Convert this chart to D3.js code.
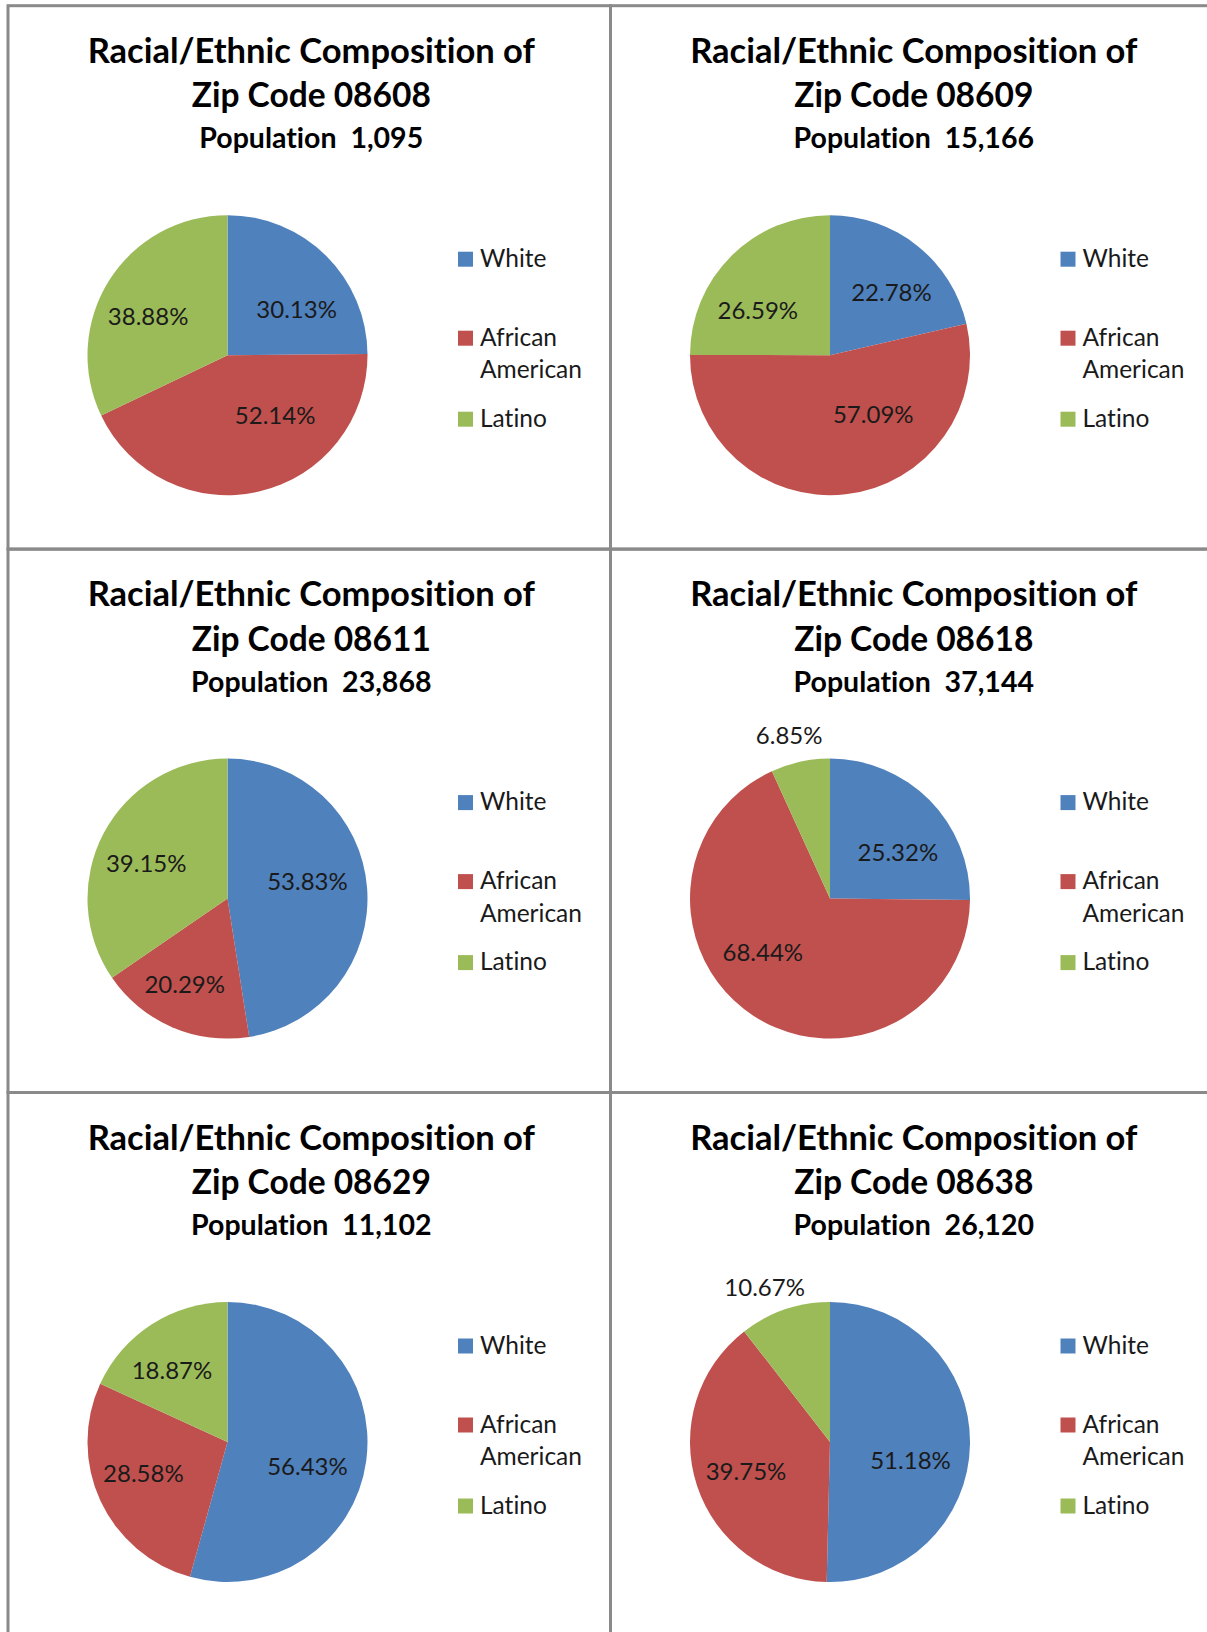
<!DOCTYPE html>
<html>
<head>
<meta charset="utf-8">
<script src="https://cdn.jsdelivr.net/npm/d3@7"></script>
<style>
  html, body { margin: 0; padding: 0; background: #ffffff; }
  svg { display: block; }
  text { white-space: pre; font-variant-ligatures: none; font-feature-settings: "liga" 0, "clig" 0; }
</style>
</head>
<body>
<svg id="chart" width="1207" height="1632"></svg>
<script>
// ---------- data ----------
const zipCodes = ["08608", "08609", "08611", "08618", "08629", "08638"];
const populations = ["1,095", "15,166", "23,868", "37,144", "11,102", "26,120"];
const categories = ["White", "African American", "Latino"];
const whiteValues = [30.13, 22.78, 53.83, 25.32, 56.43, 51.18];
const africanAmericanValues = [52.14, 57.09, 20.29, 68.44, 28.58, 39.75];
const latinoValues = [38.88, 26.59, 39.15, 6.85, 18.87, 10.67];

// label placement (Excel "best fit"), as fractions of the radius from the pie centre
const labelPlacement = [
  [[0.494, -0.326], [0.340, 0.431], [-0.567, -0.276]],
  [[0.439, -0.445], [0.309, 0.427], [-0.516, -0.320]],
  [[0.571, -0.125], [-0.306, 0.617], [-0.581, -0.252]],
  [[0.485, -0.331], [-0.480, 0.384], [-0.292, -1.164]],
  [[0.571, 0.174], [-0.601, 0.224], [-0.397, -0.510]],
  [[0.575, 0.130], [-0.600, 0.209], [-0.467, -1.104]]
];

// ---------- layout ----------
const colors = ["#4F81BD", "#C0504D", "#9BBB59"];
const color = d3.scaleOrdinal().domain(categories).range(colors);
const panelW = 602.5, panelH = 543.4;
const originX = 8, originY = 5.7;
const radius = 140;
const pieCx = 219.5, pieCy = 349.5;
const font = "Lato, 'Open Sans', sans-serif";

const svg = d3.select("#chart");
const pie = d3.pie().sort(null).value(d => d.value);
const arc = d3.arc().innerRadius(0).outerRadius(radius);

zipCodes.forEach((zip, i) => {
  const col = i % 2, row = Math.floor(i / 2);
  const x0 = originX + col * panelW, y0 = originY + row * panelH;
  const g = svg.append("g").attr("transform", `translate(${x0},${y0})`);

  const values = [whiteValues[i], africanAmericanValues[i], latinoValues[i]];
  const data = categories.map((c, k) => ({ cat: c, value: values[k], k }));

  // titles
  const tx = panelW / 2 + 2;
  g.append("text").attr("x", tx).attr("y", 57)
    .attr("text-anchor", "middle")
    .style("font-family", font)
    .style("font-weight", 700).style("font-size", "34.5px").attr("fill", "#000")
    .text("Racial/Ethnic Composition of");
  g.append("text").attr("x", tx).attr("y", 101.5)
    .attr("text-anchor", "middle")
    .style("font-family", font)
    .style("font-weight", 700).style("font-size", "33.5px").attr("fill", "#000")
    .text("Zip Code " + zip);
  g.append("text").attr("x", tx).attr("y", 142.5)
    .attr("text-anchor", "middle")
    .style("font-family", font)
    .style("font-weight", 700).style("font-size", "28.5px").attr("fill", "#000")
    .text("Population  " + populations[i]);

  // pie
  const pg = g.append("g").attr("transform", `translate(${pieCx},${pieCy})`);
  pg.selectAll("path").data(pie(data)).enter().append("path")
    .attr("d", arc)
    .attr("fill", d => color(d.data.cat));

  pg.selectAll("text.lbl").data(data).enter().append("text")
    .attr("class", "lbl")
    .attr("x", d => labelPlacement[i][d.k][0] * radius)
    .attr("y", d => labelPlacement[i][d.k][1] * radius)
    .attr("dy", "0.35em")
    .attr("text-anchor", "middle")
    .style("font-family", font)
    .style("font-size", "24px").attr("fill", "#1a1a1a")
    .text(d => d.value.toFixed(2) + "%");

  // legend
  const lg = g.append("g").attr("transform", "translate(450,0)");
  const legendRows = [
    { cat: "White", top: 246, lines: ["White"] },
    { cat: "African American", top: 325, lines: ["African", "American"] },
    { cat: "Latino", top: 406, lines: ["Latino"] }
  ];
  legendRows.forEach(r => {
    lg.append("rect").attr("x", 0).attr("y", r.top)
      .attr("width", 15).attr("height", 15)
      .attr("fill", color(r.cat));
    r.lines.forEach((ln, j) => {
      lg.append("text").attr("x", 22).attr("y", r.top + 15 + j * 32.5)
        .style("font-family", font)
        .style("font-size", "24.5px").attr("fill", "#1a1a1a")
        .text(ln);
    });
  });

  // panel border
  g.append("rect").attr("x", 0).attr("y", 0)
    .attr("width", panelW).attr("height", panelH)
    .attr("fill", "none").attr("stroke", "#8a8a8a").attr("stroke-width", 3);
});
</script>
</body>
</html>
